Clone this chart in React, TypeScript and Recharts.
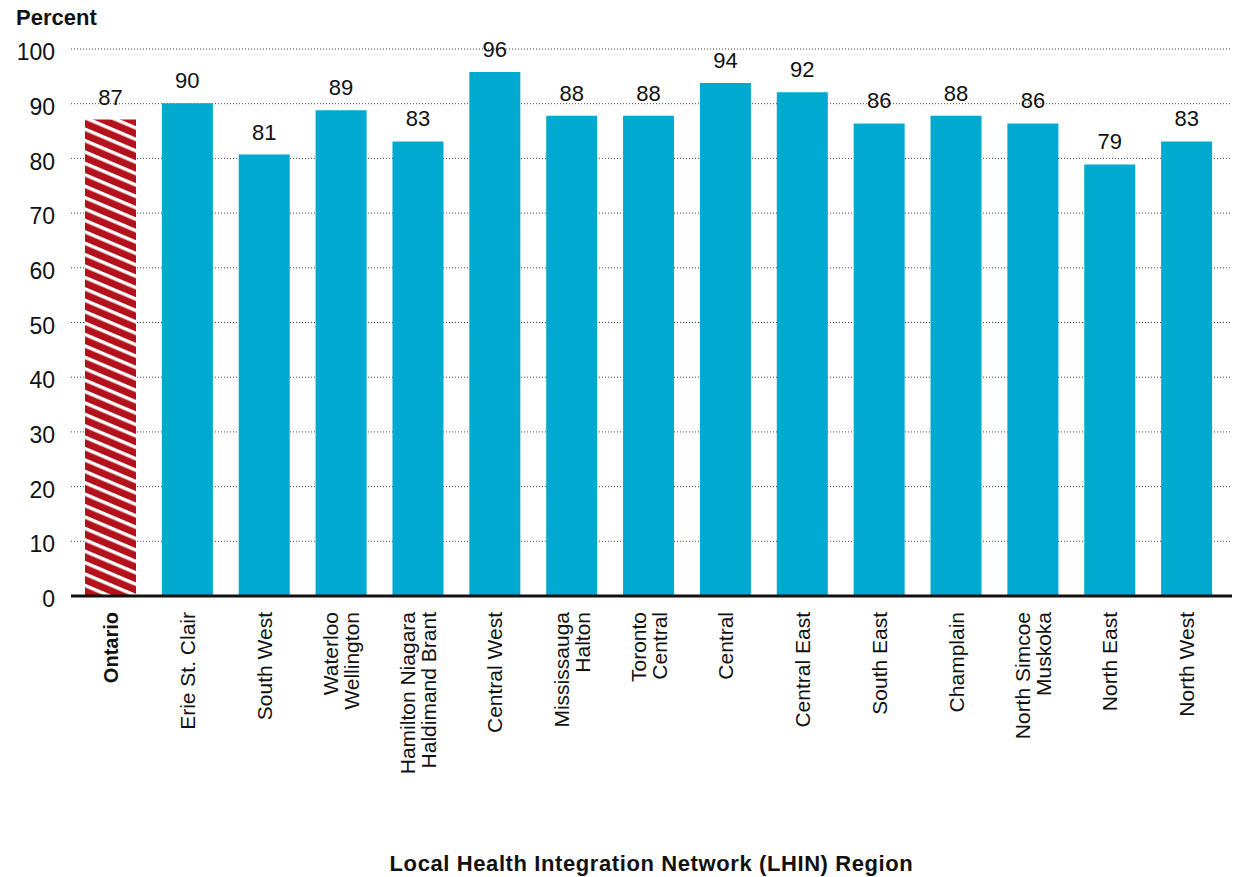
import React from 'react';
import { BarChart, Bar, XAxis, YAxis, CartesianGrid, LabelList, Cell, Label } from 'recharts';

const regions = [
  'Ontario',
  'Erie St. Clair',
  'South West',
  'Waterloo\nWellington',
  'Hamilton Niagara\nHaldimand Brant',
  'Central West',
  'Mississauga\nHalton',
  'Toronto\nCentral',
  'Central',
  'Central East',
  'South East',
  'Champlain',
  'North Simcoe\nMuskoka',
  'North East',
  'North West',
];
const percent = [87.1, 90.1, 80.7, 88.8, 83.1, 95.8, 87.8, 87.8, 93.8, 92.1, 86.4, 87.8, 86.4, 78.9, 83.1];
const labels = [87, 90, 81, 89, 83, 96, 88, 88, 94, 92, 86, 88, 86, 79, 83];
const yTicks = [0, 10, 20, 30, 40, 50, 60, 70, 80, 90, 100];

const data = regions.map((region, i) => ({ region, value: percent[i], label: labels[i] }));

const BLUE = '#00a9cf';
const RED = '#b3121c';
const FONT = '"Liberation Sans", Arial, Helvetica, sans-serif';

const RegionTick = (props: any) => {
  const { x, y, payload } = props;
  const lines: string[] = String(payload.value).split('\n');
  const lh = 21;
  const bold = payload.value === 'Ontario';
  return (
    <g transform={`translate(${x},${y})`}>
      <text
        transform="rotate(-90)"
        textAnchor="end"
        fontSize={bold ? 20 : 21}
        fontFamily={FONT}
        fontWeight={bold ? 'bold' : 'normal'}
        fill="#111"
      >
        {lines.map((line, i) => (
          <tspan key={i} x={0} y={(i - (lines.length - 1) / 2) * lh} dy="0.36em">
            {line}
          </tspan>
        ))}
      </text>
    </g>
  );
};

const PercentTitle = (props: any) => {
  const { viewBox } = props;
  return (
    <text x={viewBox.x + 16} y={viewBox.y - 24} fontSize={22} fontWeight="bold" fontFamily={FONT} fill="#111">
      Percent
    </text>
  );
};

export default function App() {
  return (
    <div style={{ position: 'absolute', left: 0, top: 0, background: '#fff' }}>
      <BarChart
        width={1237}
        height={877}
        data={data}
        margin={{ top: 49, right: 5, left: 0, bottom: 0 }}
        barSize={51}
      >
        <defs>
          <pattern id="ontarioStripes" patternUnits="userSpaceOnUse" width="12" height="10.5" patternTransform="rotate(23)">
            <rect width="12" height="10.5" fill={RED} />
            <rect width="12" height="3.4" fill="#fff" />
          </pattern>
        </defs>
        <CartesianGrid vertical={false} stroke="#444" strokeDasharray="1 2" />
        <YAxis
          width={71}
          domain={[0, 100]}
          ticks={yTicks}
          interval={0}
          axisLine={false}
          tickLine={false}
          tickSize={0}
          tickMargin={16}
          tick={{ fontSize: 23, fill: '#111', fontFamily: FONT, dy: 3 }}
        >
          <Label content={<PercentTitle />} />
        </YAxis>
        <XAxis
          dataKey="region"
          interval={0}
          height={281}
          padding={{ left: 1, right: 7 }}
          tickLine={false}
          tickSize={0}
          tickMargin={16}
          axisLine={{ stroke: '#111', strokeWidth: 3 }}
          tick={<RegionTick />}
        >
          <Label
            value="Local Health Integration Network (LHIN) Region"
            position="insideBottom"
            offset={6}
            style={{ fontSize: 22, fontWeight: 'bold', fontFamily: FONT, fill: '#111', letterSpacing: 0.6 }}
          />
        </XAxis>
        <Bar dataKey="value" isAnimationActive={false}>
          {data.map((d, i) => (
            <Cell key={d.region} fill={i === 0 ? 'url(#ontarioStripes)' : BLUE} />
          ))}
          <LabelList
            dataKey="label"
            position="top"
            offset={15}
            style={{ fontSize: 22, fill: '#111', fontFamily: FONT }}
          />
        </Bar>
      </BarChart>
    </div>
  );
}
